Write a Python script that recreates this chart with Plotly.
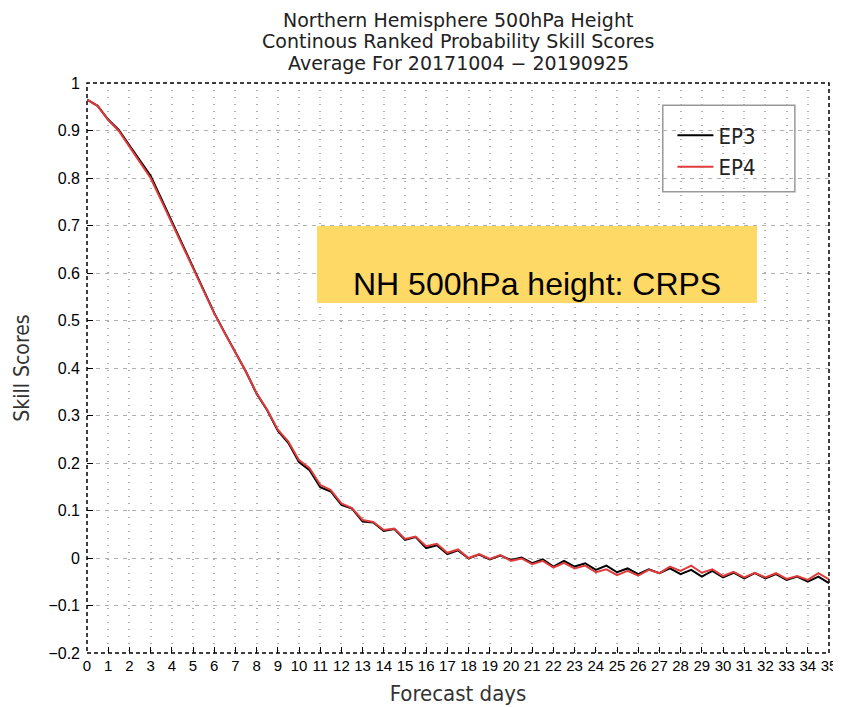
"""
Skill score line chart: NH 500hPa height CRPS for EP3 vs EP4
"""
# Standard Imports
import plotly.graph_objects as go

# Forecast lead times (days), every 12 hours out to day 35
forecast_days = [i * 0.5 for i in range(71)]

# EP3 skill scores at each lead time
ep3_scores = [
    0.965, 0.952, 0.923, 0.901, 0.869, 0.837, 0.805, 0.757, 0.709, 0.661,
    0.612, 0.563, 0.516, 0.474, 0.434, 0.392, 0.346, 0.311, 0.268, 0.242,
    0.202, 0.185, 0.149, 0.140, 0.112, 0.104, 0.077, 0.075, 0.057, 0.061,
    0.038, 0.044, 0.021, 0.027, 0.008, 0.016, -0.001, 0.007, -0.003, 0.005,
    -0.004, 0.001, -0.011, -0.003, -0.018, -0.006, -0.018, -0.011, -0.025, -0.016,
    -0.030, -0.022, -0.034, -0.024, -0.032, -0.022, -0.034, -0.025, -0.039, -0.027,
    -0.041, -0.031, -0.043, -0.032, -0.043, -0.034, -0.046, -0.039, -0.050, -0.039,
    -0.053,
]

# EP4 skill scores at each lead time
ep4_scores = [
    0.965, 0.952, 0.922, 0.899, 0.866, 0.833, 0.800, 0.753, 0.705, 0.658,
    0.610, 0.561, 0.515, 0.473, 0.434, 0.392, 0.347, 0.312, 0.270, 0.245,
    0.206, 0.189, 0.154, 0.143, 0.115, 0.105, 0.080, 0.076, 0.059, 0.062,
    0.040, 0.045, 0.025, 0.030, 0.011, 0.018, 0.000, 0.008, -0.002, 0.006,
    -0.006, -0.001, -0.013, -0.006, -0.020, -0.010, -0.022, -0.016, -0.030, -0.024,
    -0.036, -0.027, -0.037, -0.025, -0.032, -0.018, -0.027, -0.016, -0.031, -0.024,
    -0.038, -0.029, -0.041, -0.031, -0.041, -0.032, -0.044, -0.038, -0.046, -0.032,
    -0.045,
]

# Axis ticks
x_ticks = list(range(0, 36))
y_ticks = [-0.2, -0.1, 0, 0.1, 0.2, 0.3, 0.4, 0.5, 0.6, 0.7, 0.8, 0.9, 1]
y_tick_labels = ["\u22120.2", "\u22120.1", "0", "0.1", "0.2", "0.3", "0.4",
                 "0.5", "0.6", "0.7", "0.8", "0.9", "1"]

title_lines = [
    "Northern Hemisphere 500hPa Height",
    "Continous Ranked Probability Skill Scores",
    "Average For 20171004 \u2212 20190925",
]
banner_text = "NH 500hPa height: CRPS"

THIN_FONT = "DejaVu Sans, sans-serif"
NARROW_FONT = "DejaVu Sans Condensed, DejaVu Sans, sans-serif"
ARIAL = "Liberation Sans, Arial, sans-serif"


def plot() -> go.Figure:
    """
    Builds the skill score figure

    Returns
    -------
    go.Figure
        Line chart of the two experiments
    """
    fig = go.Figure()
    # EP3 drawn first so EP4 sits on top
    fig.add_trace(go.Scatter(x=forecast_days, y=ep3_scores, mode="lines", name="EP3",
                             line=dict(color="black", width=2)))
    fig.add_trace(go.Scatter(x=forecast_days, y=ep4_scores, mode="lines", name="EP4",
                             line=dict(color="#e03c3c", width=2)))
    # Dashed black frame around the plot area
    fig.add_shape(type="rect", xref="paper", yref="paper", x0=0, y0=0, x1=1, y1=1,
                  line=dict(color="black", width=1.5, dash="4px,3px"), layer="above")
    # Legend frame (drawn as a shape so it can be padded like the original)
    fig.add_shape(type="rect", xref="paper", yref="paper", x0=0.776, x1=0.954,
                  y0=0.809, y1=0.961, fillcolor="white",
                  line=dict(color="#999", width=1.5), layer="between")
    # Yellow banner
    fig.add_shape(type="rect", xref="paper", yref="paper", x0=0.31, x1=0.903,
                  y0=0.614, y1=0.749, fillcolor="#ffd966", line=dict(width=0),
                  layer="above")
    fig.add_annotation(text=banner_text, xref="paper", yref="paper", x=0.6065, y=0.682,
                       showarrow=False, font=dict(family=ARIAL, size=32, color="black"))
    # Three line title
    for i, line in enumerate(title_lines):
        fig.add_annotation(text=line, xref="paper", yref="paper", x=0.5, y=1.1114 - i * 0.0382,
                           yanchor="middle", showarrow=False,
                           font=dict(family=THIN_FONT, size=19, color="#222"))
    # The page body adds an 8px margin, so the figure is 8px smaller than the window
    fig.update_layout(
        width=833,
        height=699,
        margin=dict(l=79, r=12, t=75, b=54, autoexpand=False),
        paper_bgcolor="white",
        plot_bgcolor="white",
        showlegend=True,
        legend=dict(x=0.789, y=0.945, xanchor="left", yanchor="top",
                    bgcolor="rgba(0,0,0,0)", borderwidth=0,
                    font=dict(family=NARROW_FONT, size=22, color="#222"),
                    itemwidth=36, tracegroupgap=0),
    )
    fig.update_xaxes(
        range=[0, 35], tickvals=x_ticks, ticks="inside", ticklen=6, tickcolor="black",
        showgrid=True, gridcolor="#b0b0b0", griddash="1px,6px", gridwidth=1.5,
        zeroline=False, showline=False, automargin=False, ticklabelstandoff=2,
        tickfont=dict(family=ARIAL, size=15, color="black"),
        title=dict(text="Forecast days", standoff=12,
                   font=dict(family=NARROW_FONT, size=22, color="#333")),
    )
    fig.update_yaxes(
        range=[-0.2, 1], tickvals=y_ticks, ticktext=y_tick_labels, ticks="inside",
        ticklen=6, tickcolor="black",
        showgrid=True, gridcolor="#b0b0b0", griddash="4px,5px", gridwidth=1,
        zeroline=False, showline=False, automargin=False, ticklabelstandoff=6,
        tickfont=dict(family=ARIAL, size=16, color="black"),
        title=dict(text="Skill Scores", standoff=13,
                   font=dict(family=NARROW_FONT, size=21, color="#333")),
    )
    return fig


fig = plot()
fig.write_html("out.html")
